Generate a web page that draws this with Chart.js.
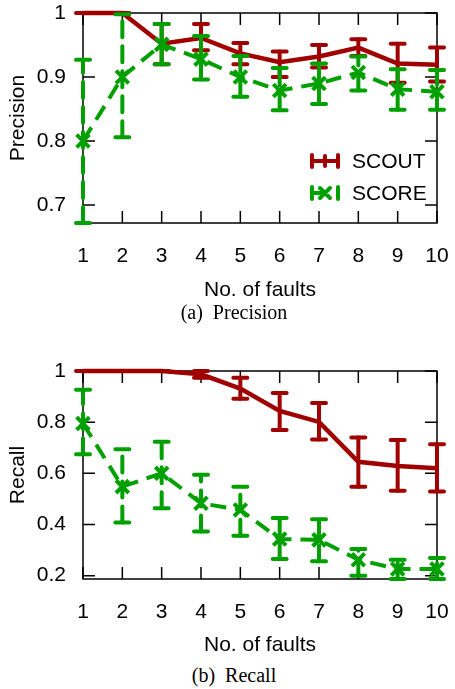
<!DOCTYPE html>
<html>
<head>
<meta charset="utf-8">
<script src="https://cdn.jsdelivr.net/npm/chart.js@4.4.1/dist/chart.umd.min.js"></script>
<style>
  body { margin: 0; background: #fff; width: 455px; height: 689px; position: relative; overflow: hidden; }
  canvas { position: absolute; left: 0; }
  .cap { position: absolute; left: 0; width: 468px; text-align: center; font: 20px "Liberation Serif", "Times New Roman", serif; line-height: 24px; color: #000; }
</style>
</head>
<body>
<canvas id="precChart" width="455" height="303" style="top:0"></canvas>
<div class="cap" style="top:300px">(a)&nbsp; Precision</div>
<canvas id="recChart" width="455" height="300" style="top:358px"></canvas>
<div class="cap" style="top:663px">(b)&nbsp; Recall</div>
<script>
const faults = [1, 2, 3, 4, 5, 6, 7, 8, 9, 10];

const precisionScout   = [1.000, 1.000, 0.952, 0.961, 0.937, 0.923, 0.932, 0.946, 0.921, 0.919];
const precisionScoutLo = [1.000, 1.000, 0.920, 0.942, 0.920, 0.900, 0.915, 0.933, 0.891, 0.893];
const precisionScoutHi = [1.000, 1.000, 0.983, 0.983, 0.953, 0.940, 0.950, 0.959, 0.952, 0.946];
const precisionScore   = [0.800, 0.900, 0.951, 0.928, 0.900, 0.879, 0.890, 0.907, 0.881, 0.877];
const precisionScoreLo = [0.672, 0.806, 0.920, 0.896, 0.869, 0.848, 0.858, 0.879, 0.849, 0.849];
const precisionScoreHi = [0.927, 0.998, 0.983, 0.964, 0.933, 0.914, 0.921, 0.932, 0.912, 0.911];

const recallScout   = [1.000, 1.000, 1.000, 0.987, 0.931, 0.844, 0.801, 0.645, 0.629, 0.620];
const recallScoutLo = [1.000, 1.000, 1.000, 0.974, 0.892, 0.769, 0.732, 0.548, 0.532, 0.529];
const recallScoutHi = [1.000, 1.000, 1.000, 1.000, 0.974, 0.914, 0.875, 0.740, 0.730, 0.714];
const recallScore   = [0.795, 0.548, 0.600, 0.483, 0.457, 0.343, 0.340, 0.262, 0.226, 0.226];
const recallScoreLo = [0.675, 0.408, 0.464, 0.373, 0.356, 0.265, 0.256, 0.200, 0.187, 0.187];
const recallScoreHi = [0.927, 0.694, 0.723, 0.594, 0.548, 0.425, 0.421, 0.304, 0.262, 0.269];

const precisionTicks = [0.7, 0.8, 0.9, 1];
const recallTicks = [0.2, 0.4, 0.6, 0.8, 1];
const seriesNames = ['SCOUT', 'SCORE'];

const RED = '#a00000';
const GREEN = '#00a000';
const DASH = [16, 9];

Chart.defaults.font.family = '"Liberation Sans", Arial, Helvetica, sans-serif';
Chart.defaults.font.size = 21;
Chart.defaults.color = '#000';

// gnuplot style box with inward ticks on all four sides
const framePlugin = {
  id: 'frame',
  beforeDatasetsDraw(chart) {
    const { ctx, chartArea: a, scales: { x, y } } = chart;
    ctx.save();
    ctx.strokeStyle = '#000';
    ctx.lineWidth = 1.5;
    ctx.beginPath();
    x.ticks.forEach(t => {
      const px = x.getPixelForValue(t.value);
      ctx.moveTo(px, a.bottom); ctx.lineTo(px, a.bottom - 12);
      ctx.moveTo(px, a.top); ctx.lineTo(px, a.top + 12);
    });
    y.ticks.forEach(t => {
      const py = y.getPixelForValue(t.value);
      ctx.moveTo(a.left, py); ctx.lineTo(a.left + 12, py);
      ctx.moveTo(a.right, py); ctx.lineTo(a.right - 12, py);
    });
    ctx.stroke();
    ctx.strokeRect(a.left, a.top, a.width, a.height);
    ctx.restore();
  }
};

// vertical error bars with caps, drawn right after each dataset
const errorBarPlugin = {
  id: 'errorBars',
  afterDatasetDraw(chart, args) {
    const ds = chart.data.datasets[args.index];
    if (!ds.errLo) return;
    const { ctx, scales: { y } } = chart;
    ctx.save();
    ctx.strokeStyle = ds.borderColor;
    ctx.lineWidth = 4;
    ctx.lineCap = 'round';
    args.meta.data.forEach((pt, i) => {
      const yLo = y.getPixelForValue(ds.errLo[i]);
      const yHi = y.getPixelForValue(ds.errHi[i]);
      ctx.setLineDash(ds.borderDash || []);
      ctx.beginPath();
      ctx.moveTo(pt.x, yLo); ctx.lineTo(pt.x, yHi);
      ctx.stroke();
      ctx.setLineDash([]);
      ctx.beginPath();
      ctx.moveTo(pt.x - 7, yLo); ctx.lineTo(pt.x + 7, yLo);
      ctx.moveTo(pt.x - 7, yHi); ctx.lineTo(pt.x + 7, yHi);
      ctx.stroke();
    });
    ctx.restore();
  }
};

// key in the lower right of the plot
const keyPlugin = {
  id: 'key',
  afterDraw(chart, args, opts) {
    if (!opts.show) return;
    const { ctx, chartArea: a } = chart;
    const tx = a.right - 85;
    const rows = [a.top + 148, a.top + 180];
    const cols = [RED, GREEN];
    ctx.save();
    ctx.lineWidth = 4;
    ctx.lineCap = 'round';
    rows.forEach((ry, i) => {
      const x0 = tx - 40, x1 = tx - 14, xm = (x0 + x1) / 2;
      ctx.strokeStyle = cols[i];
      ctx.beginPath();
      ctx.moveTo(x0, ry - 6); ctx.lineTo(x0, ry + 6);
      ctx.moveTo(x1, ry - 6); ctx.lineTo(x1, ry + 6);
      if (i === 0) {
        ctx.moveTo(x0, ry); ctx.lineTo(x1, ry);
        ctx.moveTo(xm, ry - 5); ctx.lineTo(xm, ry + 5);
      } else {
        ctx.moveTo(x0, ry); ctx.lineTo(xm, ry);
        ctx.moveTo(xm - 5, ry - 5); ctx.lineTo(xm + 5, ry + 5);
        ctx.moveTo(xm - 5, ry + 5); ctx.lineTo(xm + 5, ry - 5);
      }
      ctx.stroke();
      ctx.fillStyle = '#000';
      ctx.font = '21px "Liberation Sans", Arial, sans-serif';
      ctx.textBaseline = 'middle';
      ctx.fillText(seriesNames[i], tx, ry + 1);
    });
    ctx.restore();
  }
};

function makeChart(id, yTitle, scout, scoutLo, scoutHi, score, scoreLo, scoreHi, yTicks, yMin, plotH, showKey) {
  const canvas = document.getElementById(id);
  const toXY = arr => arr.map((v, i) => ({ x: faults[i], y: v }));
  return new Chart(canvas.getContext('2d'), {
    type: 'line',
    data: {
      datasets: [
        {
          label: seriesNames[0],
          data: toXY(scout),
          errLo: scoutLo, errHi: scoutHi,
          borderColor: RED, backgroundColor: RED,
          borderWidth: 4.5, pointRadius: 0,
          order: 1, clip: 12
        },
        {
          label: seriesNames[1],
          data: toXY(score),
          errLo: scoreLo, errHi: scoreHi,
          borderColor: GREEN, backgroundColor: GREEN,
          borderWidth: 4, borderDash: DASH,
          pointStyle: 'crossRot', pointRadius: 9, pointBorderWidth: 4,
          order: 0, clip: 12
        }
      ]
    },
    options: {
      responsive: false,
      animation: false,
      layout: { padding: { top: 13, right: 18, left: 0, bottom: 0 } },
      plugins: {
        legend: { display: false },
        tooltip: { enabled: false },
        key: { show: showKey }
      },
      scales: {
        x: {
          type: 'linear', min: 1, max: 10,
          grid: { display: false }, border: { display: false },
          ticks: { padding: 13, font: { size: 21 } },
          afterBuildTicks: s => { s.ticks = faults.map(v => ({ value: v })); },
          afterFit: s => { s.height = canvas.height - 13 - plotH; s.paddingLeft = 0; s.paddingRight = 0; },
          title: { display: true, text: 'No. of faults', padding: { top: 0, bottom: 0 } }
        },
        y: {
          min: yMin, max: 1,
          grid: { display: false }, border: { display: false },
          ticks: { padding: 9, callback: v => String(v) },
          afterBuildTicks: s => { s.ticks = yTicks.map(v => ({ value: v })); },
          afterFit: s => { s.width = 83; s.paddingTop = 0; s.paddingBottom = 0; },
          title: { display: true, text: yTitle, padding: { top: 6, bottom: 0 } }
        }
      }
    },
    plugins: [framePlugin, errorBarPlugin, keyPlugin]
  });
}

makeChart('precChart', 'Precision', precisionScout, precisionScoutLo, precisionScoutHi,
  precisionScore, precisionScoreLo, precisionScoreHi, precisionTicks, 0.672, 210, true);
makeChart('recChart', 'Recall', recallScout, recallScoutLo, recallScoutHi,
  recallScore, recallScoreLo, recallScoreHi, recallTicks, 0.187, 208, false);
</script>
</body>
</html>
